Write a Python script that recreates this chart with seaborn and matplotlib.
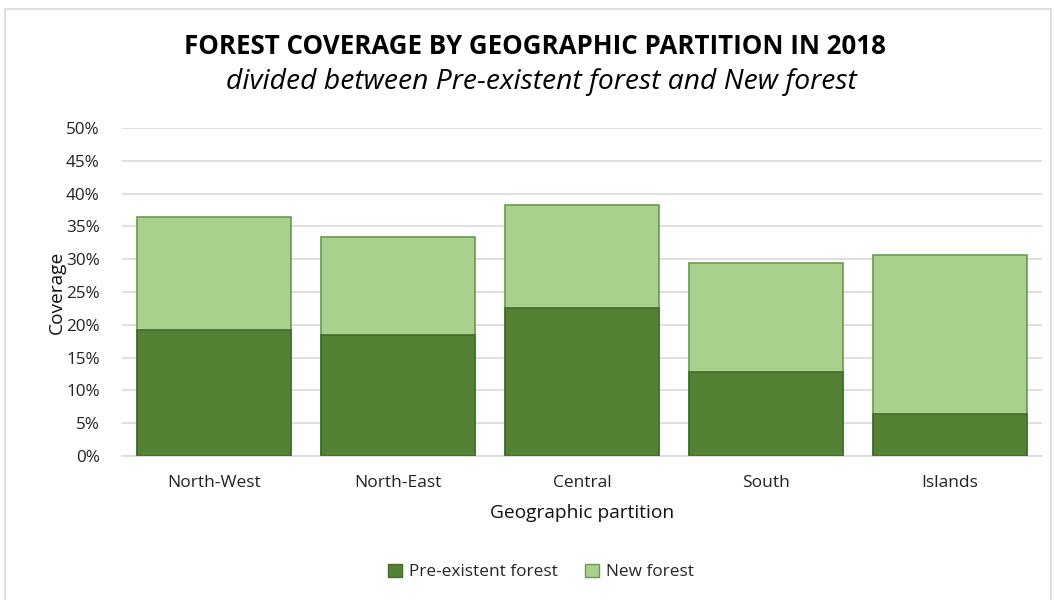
import matplotlib
matplotlib.use("Agg")
import matplotlib.pyplot as plt
import seaborn as sns
import pandas as pd
from matplotlib.patches import Rectangle, Patch
from matplotlib.ticker import PercentFormatter, MultipleLocator

categories = ["North-West", "North-East", "Central", "South", "Islands"]
pre_existent = [19.2, 18.4, 22.6, 12.8, 6.4]
new_forest = [17.2, 15.0, 15.7, 16.6, 24.2]

totals = [p + n for p, n in zip(pre_existent, new_forest)]
df = pd.DataFrame({"partition": categories, "pre": pre_existent, "total": totals})

sns.set_theme(style="white")
plt.rcParams["font.family"] = ["Open Sans", "DejaVu Sans"]

dark = "#548235"
light = "#A9D18E"

fig = plt.figure(figsize=(10.54, 6.0), dpi=100)
ax = fig.add_axes([122/1054, 0.24, 920/1054, 0.5467])

sns.barplot(data=df, x="partition", y="total", color=light, edgecolor="#6a9a4c",
            linewidth=1.2, width=0.835, saturation=1, ax=ax, zorder=3)
sns.barplot(data=df, x="partition", y="pre", color=dark, edgecolor="#436b2b",
            linewidth=1.2, width=0.835, saturation=1, ax=ax, zorder=4)

ax.set_ylim(0, 50)
ax.set_xlim(-0.5, 4.5)
ax.yaxis.set_major_locator(MultipleLocator(5))
ax.yaxis.set_major_formatter(PercentFormatter(decimals=0))
ax.grid(axis="y", color="#d9d9d9", linewidth=1.2, zorder=0)
ax.set_axisbelow(True)
for s in ["top", "right", "left"]:
    ax.spines[s].set_visible(False)
ax.spines["bottom"].set_color("#d9d9d9")
ax.spines["bottom"].set_linewidth(1.2)
ax.tick_params(axis="y", length=0, labelsize=12.3, colors="#222222", pad=16)
ax.tick_params(axis="x", length=0, labelsize=12.5, colors="#222222", pad=14)
ax.set_xlabel("Geographic partition", fontsize=13.8, color="#111111", labelpad=9)
ax.set_ylabel("Coverage", fontsize=13.8, color="#111111", labelpad=0)

fig.text(535/1054, 1 - 47/600, "FOREST COVERAGE BY GEOGRAPHIC PARTITION IN 2018",
         ha="center", va="center", fontsize=18.6, fontweight="bold", color="#000000")
fig.text(541/1054, 1 - 82/600, "divided between Pre-existent forest and New forest",
         ha="center", va="center", fontsize=20.3, fontstyle="italic", color="#000000")

handles = [Patch(facecolor=dark, edgecolor="#436b2b", label="Pre-existent forest"),
           Patch(facecolor=light, edgecolor="#6a9a4c", label="New forest")]
fig.legend(handles=handles, loc="center", bbox_to_anchor=(541/1054, 1 - 572/600),
           ncol=2, frameon=False, fontsize=12.4, handlelength=0.8, handleheight=0.8,
           handletextpad=0.4, columnspacing=1.6)

fig.patches.append(Rectangle((5/1054, -0.01), 1046/1054, 1 - 9/600 + 0.01,
                             transform=fig.transFigure, fill=False,
                             edgecolor="#d9d9d9", linewidth=1.2))

fig.savefig("out.png", dpi=100)
